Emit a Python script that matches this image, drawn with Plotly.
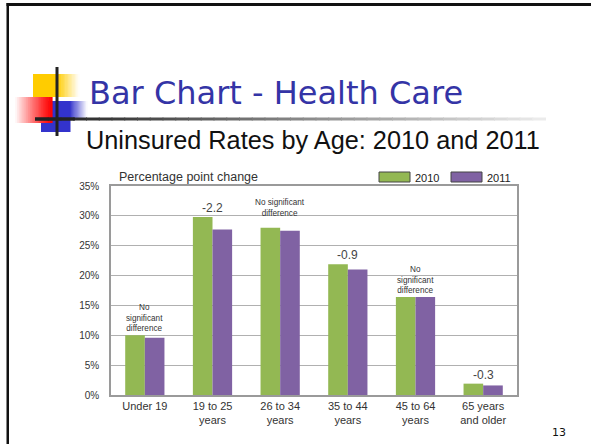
import plotly.graph_objects as go

# ---- data ----
categories = ["Under 19", "19 to 25<br>years", "26 to 34<br>years",
              "35 to 44<br>years", "45 to 64<br>years", "65 years<br>and older"]
rates_2010 = [10.0, 29.8, 28.0, 21.9, 16.4, 1.9]
rates_2011 = [9.6, 27.7, 27.5, 21.0, 16.4, 1.6]
change_labels = ["No<br>significant<br>difference", "-2.2",
                 "No significant<br>difference", "-0.9",
                 "No<br>significant<br>difference", "-0.3"]
y_ticks = [0, 5, 10, 15, 20, 25, 30, 35]
y_tick_labels = ["0%", "5%", "10%", "15%", "20%", "25%", "30%", "35%"]

GREEN = "#93B853"
PURPLE = "#8062A3"

W, H = 591, 444
ML, MR, MT, MB = 111, 74, 186, 49
PW, PH = W - ML - MR, H - MT - MB


def px(x):
    return (x - ML) / PW


def py(y):
    return (H - MB - y) / PH


fig = go.Figure()
fig.add_trace(go.Bar(x=categories, y=rates_2010, name="2010",
                     marker=dict(color=GREEN, line=dict(width=0))))
fig.add_trace(go.Bar(x=categories, y=rates_2011, name="2011",
                     marker=dict(color=PURPLE, line=dict(width=0))))

shapes = []
annotations = []

# slide frame
shapes.append(dict(type="rect", xref="paper", yref="paper", x0=px(6.5), x1=px(600),
                   y0=py(3), y1=py(6), fillcolor="#111", line=dict(width=0), layer="above"))
shapes.append(dict(type="rect", xref="paper", yref="paper", x0=px(6.5), x1=px(9),
                   y0=py(3), y1=py(450), fillcolor="#111", line=dict(width=0), layer="above"))


def mix(c, t):
    """Blend colour c (r,g,b) toward white by fraction t."""
    return "rgb(%d,%d,%d)" % tuple(int(v + (255 - v) * t) for v in c)


def rect(x0, y0, x1, y1, color):
    shapes.append(dict(type="rect", xref="paper", yref="paper",
                       x0=px(x0), x1=px(x1), y0=py(y0), y1=py(y1),
                       fillcolor=color, line=dict(width=0), layer="above"))


YEL = (255, 204, 0)
BLU = (51, 51, 204)
RED = (255, 0, 0)
n = 16
# yellow square with fade to right
rect(33, 74, 57.5, 97, mix(YEL, 0))
for i in range(n):
    xa = 57 + (79 - 57) * i / n
    xb = 57 + (79 - 57) * (i + 1) / n + 0.6
    rect(xa, 74, xb, 97, mix(YEL, (i + 0.5) / n))
# blue square with fade to right
rect(41, 101, 70.5, 132, mix(BLU, 0))
for i in range(n):
    xa = 70 + (87 - 70) * i / n
    xb = 70 + (87 - 70) * (i + 1) / n + 0.6
    rect(xa, 101, xb, 120, mix(BLU, (i + 0.5) / n))
# red square fading to the left
for i in range(20):
    xa = 15 + (52 - 15) * i / 20
    xb = 15 + (52 - 15) * (i + 1) / 20 + 0.6
    rect(xa, 97, xb, 123, mix(RED, (1 - (i + 0.5) / 20) ** 1.2))

# gradient rule under title
segs = 40
for i in range(segs):
    xa = 35 + (545 - 35) * i / segs
    xb = 35 + (545 - 35) * (i + 1) / segs + 1
    t = i / (segs - 1)
    c = int(30 + (235 - 30) * t)
    shapes.append(dict(type="line", xref="paper", yref="paper",
                       x0=px(xa), x1=px(xb), y0=py(119), y1=py(119),
                       line=dict(color=f"rgb({c},{c},{c})", width=3), layer="above"))
# crosshair
shapes.append(dict(type="line", xref="paper", yref="paper", x0=px(35), x1=px(75),
                   y0=py(119), y1=py(119), line=dict(color="#222", width=3), layer="above"))
shapes.append(dict(type="line", xref="paper", yref="paper", x0=px(57), x1=px(57),
                   y0=py(67), y1=py(136), line=dict(color="#222", width=3), layer="above"))

# titles
annotations.append(dict(text="Bar Chart - Health Care", xref="paper", yref="paper",
                        x=px(87), y=py(93), xanchor="left", yanchor="middle",
                        showarrow=False, font=dict(family="DejaVu Sans", size=32, color="#3434A6")))
annotations.append(dict(text="Uninsured Rates by Age: 2010 and 2011", xref="paper", yref="paper",
                        x=px(84), y=py(140), xanchor="left", yanchor="middle",
                        showarrow=False, font=dict(family="Liberation Sans", size=25.3, color="#111")))
annotations.append(dict(text="13", xref="paper", yref="paper", x=px(559), y=py(432),
                        xanchor="center", yanchor="middle", showarrow=False,
                        font=dict(family="DejaVu Sans", size=11, color="#111")))

# chart header
annotations.append(dict(text="Percentage point change", xref="paper", yref="paper",
                        x=px(117), y=py(177), xanchor="left", yanchor="middle",
                        showarrow=False, font=dict(family="Liberation Sans", size=12.5, color="#333")))

# legend (custom swatches)
for name, color, x0 in [("2010", GREEN, 379), ("2011", PURPLE, 451)]:
    shapes.append(dict(type="rect", xref="paper", yref="paper", x0=px(x0), x1=px(x0 + 31),
                       y0=py(172), y1=py(182), fillcolor=color,
                       line=dict(color="#444", width=1)))
    annotations.append(dict(text=name, xref="paper", yref="paper", x=px(x0 + 34), y=py(177.5),
                            xanchor="left", yanchor="middle", showarrow=False,
                            font=dict(family="Liberation Sans", size=11, color="#222")))

# change labels above each group
for i, (cat, lab) in enumerate(zip(categories, change_labels)):
    top = max(rates_2010[i], rates_2011[i])
    big = not lab.startswith("No")
    shift = 0
    if i == 2:
        shift = 8
    annotations.append(dict(text=lab, x=cat, y=top, xref="x", yref="y",
                            yanchor="bottom", yshift=shift, showarrow=False,
                            font=dict(family="Liberation Sans", size=12 if big else 8.2,
                                      color="#444" if big else "#333")))

fig.update_layout(
    width=W, height=H,
    margin=dict(l=ML, r=MR, t=MT, b=MB),
    paper_bgcolor="white", plot_bgcolor="white",
    barmode="group", bargap=0.42, bargroupgap=0,
    showlegend=False,
    shapes=shapes, annotations=annotations,
    font=dict(family="Liberation Sans", color="#333"),
)
fig.update_xaxes(showline=True, linecolor="#9a9a9a", linewidth=1.5, mirror=True,
                 showgrid=False, ticks="", tickfont=dict(size=11, color="#333"))
fig.update_yaxes(range=[0, 35], tickvals=y_ticks, ticktext=y_tick_labels,
                 showline=True, linecolor="#9a9a9a", linewidth=1.5, mirror=True,
                 showgrid=True, gridcolor="#b0b0b0", gridwidth=1, zeroline=False,
                 ticks="", ticklabelstandoff=8, tickfont=dict(size=10, color="#333"))

fig.write_html("out.html", config={"displayModeBar": False},
               post_script="document.body.style.margin='0px';document.body.style.overflow='hidden';")
